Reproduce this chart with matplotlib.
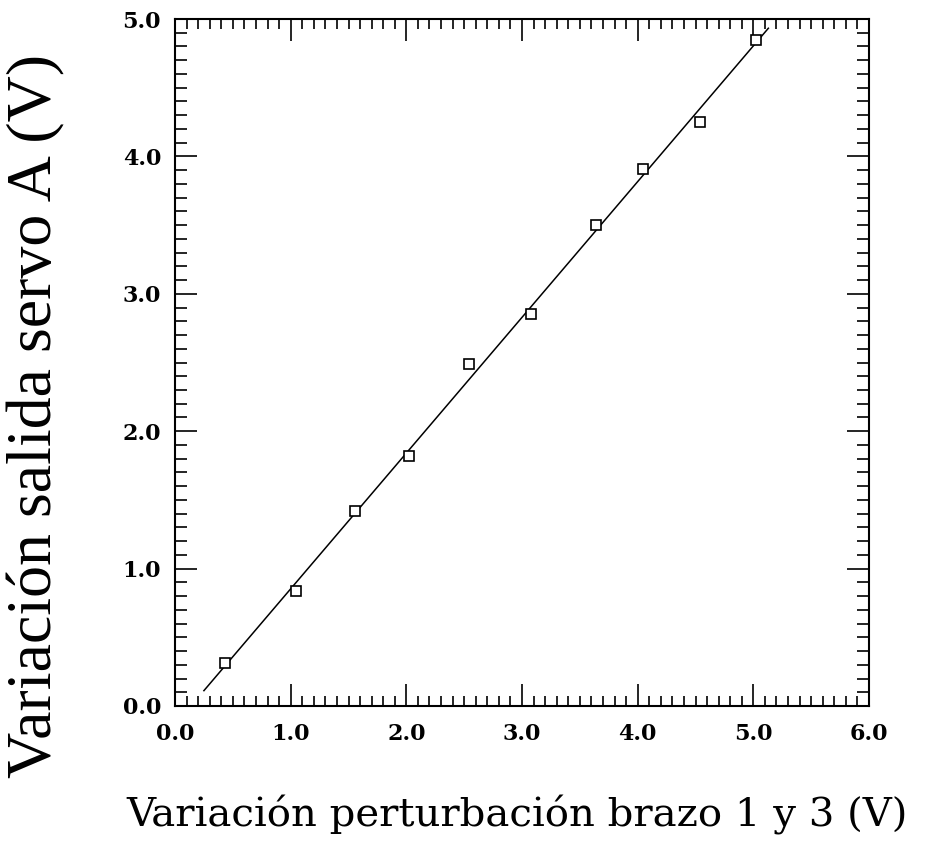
import numpy as np
import matplotlib.pyplot as plt
from matplotlib.ticker import MultipleLocator, FormatStrFormatter

# measured perturbation (arm 1 and 3) vs. servo A output change, in volts
perturbacion = [0.43, 1.05, 1.56, 2.02, 2.54, 3.08, 3.64, 4.05, 4.54, 5.02]
salida_servo = [0.31, 0.84, 1.42, 1.82, 2.49, 2.85, 3.50, 3.91, 4.25, 4.85]

# x range covered by the fitted line
rango_ajuste = [0.25, 5.13]

pendiente, ordenada = np.polyfit(perturbacion, salida_servo, 1)
x_ajuste = np.array(rango_ajuste)
y_ajuste = pendiente * x_ajuste + ordenada

fig = plt.figure(figsize=(9.25, 8.49), dpi=100)
ax = fig.add_axes([175 / 925, 1 - 706 / 849, 694 / 925, 687 / 849])

ax.plot(x_ajuste, y_ajuste, color='black', lw=1.1)
ax.plot(perturbacion, salida_servo, linestyle='none', marker='s', markersize=7,
        markerfacecolor='white', markeredgecolor='black', markeredgewidth=1.2)

ax.set_xlim(0, 6)
ax.set_ylim(0, 5)
ax.xaxis.set_major_locator(MultipleLocator(1.0))
ax.xaxis.set_minor_locator(MultipleLocator(0.1))
ax.yaxis.set_major_locator(MultipleLocator(1.0))
ax.yaxis.set_minor_locator(MultipleLocator(0.1))
ax.xaxis.set_major_formatter(FormatStrFormatter('%.1f'))
ax.yaxis.set_major_formatter(FormatStrFormatter('%.1f'))

for s in ax.spines.values():
    s.set_linewidth(1.5)

ax.tick_params(which='both', direction='in', top=True, right=True, width=1.2)
ax.tick_params(axis='x', which='major', length=16, pad=12)
ax.tick_params(axis='x', which='minor', length=7)
ax.tick_params(axis='y', which='major', length=16, pad=10)
ax.tick_params(axis='y', which='minor', length=8.5)

for lab in ax.get_xticklabels() + ax.get_yticklabels():
    lab.set_fontfamily('DejaVu Serif')
    lab.set_fontweight('bold')
    lab.set_fontsize(16)

fig.text(517 / 925, 1 - 815 / 849, 'Variación perturbación brazo 1 y 3 (V)',
         ha='center', va='center', fontsize=29, family='DejaVu Serif')
fig.text(36 / 925, 1 - 416 / 849, 'Variación salida servo A (V)',
         ha='center', va='center', rotation=90, fontsize=46, family='Liberation Serif')

fig.savefig('out.png', dpi=100)
